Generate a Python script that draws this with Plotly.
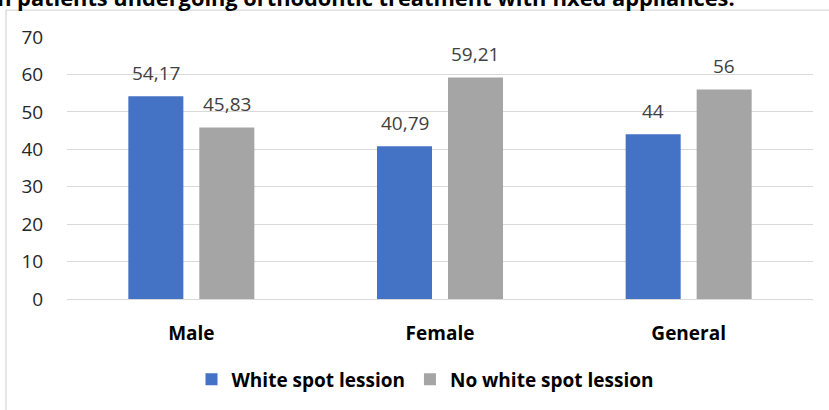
import plotly.graph_objects as go

categories = ["Male", "Female", "General"]
series_names = ["White spot lession", "No white spot lession"]
white_spot = [54.17, 40.79, 44]
no_white_spot = [45.83, 59.21, 56]
colors = ["#4472C4", "#A5A5A5"]
y_ticks = [0, 10, 20, 30, 40, 50, 60, 70]
title_text = ("Figure 1. Prevalence of white spot lesions in patients undergoing "
              "orthodontic treatment with fixed appliances.")

W, H = 829, 410
ML, MR, MT, MB = 67, 16, 37, 109
BARGAP = 0.429
BARGROUPGAP = 0.225
FS = 19
plot_w = W - ML - MR
plot_h = H - MT - MB
cat_px = plot_w / len(categories)
slot_px = cat_px * (1 - BARGAP) / 2

def px_to_paper_x(px):
    return (px - ML) / plot_w

def px_to_paper_y(py):
    return (H - MB - py) / plot_h

fig = go.Figure()
for name, vals, col in zip(series_names, [white_spot, no_white_spot], colors):
    fig.add_trace(go.Bar(x=categories, y=vals, name=name, marker=dict(color=col, line=dict(width=0))))

annotations = []
for si, vals in enumerate([white_spot, no_white_spot]):
    shift = (si - 0.5) * slot_px
    for c, v in zip(categories, vals):
        annotations.append(dict(
            x=c, y=v, xref="x", yref="y", text=f"{v:g}".replace(".", ","),
            showarrow=False, xshift=shift, yshift=8.5, yanchor="bottom",
            font=dict(family="Open Sans", size=FS, color="#404040")))

annotations.append(dict(
    x=px_to_paper_x(737), y=px_to_paper_y(14), xref="paper", yref="paper",
    text="<b>" + title_text + "</b>", showarrow=False, xanchor="right", yanchor="bottom",
    font=dict(family="Open Sans", size=21.8, color="#000000")))

fig.update_layout(
    width=W, height=H,
    margin=dict(l=ML, r=MR, t=MT, b=MB, pad=0),
    paper_bgcolor="white", plot_bgcolor="white",
    barmode="group", bargap=BARGAP, bargroupgap=BARGROUPGAP,
    showlegend=True,
    legend=dict(orientation="h", x=px_to_paper_x(425), xanchor="center",
                y=px_to_paper_y(382), yanchor="middle",
                font=dict(family="Open Sans", size=FS, color="#000000", weight="bold"),
                itemsizing="constant"),
    annotations=annotations,
    shapes=[dict(type="rect", xref="paper", yref="paper",
                 x0=px_to_paper_x(6), x1=px_to_paper_x(W + 20),
                 y0=px_to_paper_y(H + 20), y1=px_to_paper_y(10),
                 line=dict(color="#D9D9D9", width=1.3), fillcolor="rgba(0,0,0,0)", layer="below")],
)
fig.update_xaxes(
    showgrid=False, showline=False, zeroline=False,
    ticks="outside", ticklen=17, tickcolor="rgba(0,0,0,0)",
    tickfont=dict(family="Open Sans", size=FS, color="#000000", weight="bold"),
)
fig.update_yaxes(
    range=[0, 70], tickvals=y_ticks, showgrid=True, gridcolor="#D9D9D9", gridwidth=1.3,
    zeroline=True, zerolinecolor="#D9D9D9", zerolinewidth=1.3, showline=False,
    ticks="outside", ticklen=19, tickcolor="rgba(0,0,0,0)",
    tickfont=dict(family="Open Sans", size=FS, color="#262626"),
)

fig.write_html("out.html", config={"displayModeBar": False},
               post_script="document.body.style.margin='0';document.body.style.overflow='hidden';")
